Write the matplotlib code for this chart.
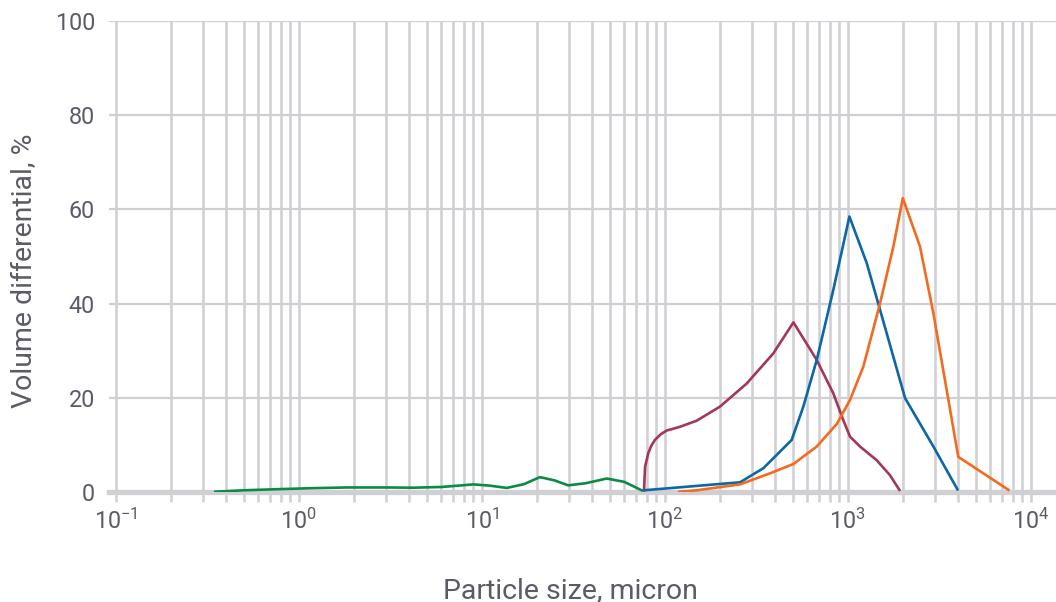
import matplotlib
matplotlib.use("Agg")
import matplotlib.pyplot as plt
from matplotlib.ticker import LogLocator, FixedLocator, FixedFormatter, NullFormatter

plt.rcParams['font.family'] = ['Roboto', 'DejaVu Sans']
plt.rcParams['mathtext.fontset'] = 'custom'
plt.rcParams['mathtext.rm'] = 'Roboto'
plt.rcParams['mathtext.it'] = 'Roboto:italic'
plt.rcParams['mathtext.bf'] = 'Roboto:bold'

# green sample
green_x = [0.35, 0.5, 0.79, 1.2, 1.83, 3, 4.23, 6, 7.5, 9.0, 11, 13.7, 17, 20.8, 25, 29.7, 37, 48.2, 60, 74.8]
green_y = [0, 0.3, 0.55, 0.75, 0.9, 0.9, 0.85, 1.0, 1.3, 1.55, 1.3, 0.8, 1.6, 3.1, 2.4, 1.35, 1.8, 2.8, 2.1, 0.3]

# maroon sample
maroon_x = [77.1, 77.6, 78.1, 81.3, 84.5, 88.4, 95, 102.5, 121.2, 149.6, 200.6, 280.5, 392, 505,
            677, 834, 946, 1029, 1167, 1439, 1702, 1914]
maroon_y = [0.3, 3.0, 5.3, 8.2, 9.8, 11.0, 12.2, 13.0, 13.8, 15.1, 18.1, 23.0, 29.4, 36.0,
            28.0, 20.9, 15.2, 11.7, 9.6, 6.7, 3.5, 0.4]

# blue sample
blue_x = [77, 258, 346, 494, 572, 677, 834, 1021, 1270, 1503, 2057, 2938, 3974]
blue_y = [0.3, 2.0, 5.0, 11.0, 18.1, 28.0, 42.9, 58.5, 48.6, 38.6, 19.9, 9.6, 0.5]

# orange sample
orange_x = [120, 150, 258, 376, 505, 677, 871, 1029, 1217, 1503, 1775, 2000,
            2483, 2938, 4018, 7550]
orange_y = [0, 0.3, 1.56, 3.9, 5.9, 9.6, 14.4, 19.5, 26.6, 40.1, 52.1, 62.4,
            52.1, 37.9, 7.4, 0.4]

xticks = [0.1, 1, 10, 100, 1000, 10000]
xtick_labels = [r'$10^{-1}$', r'$10^{0}$', r'$10^{1}$', r'$10^{2}$', r'$10^{3}$', r'$10^{4}$']
yticks = [0, 20, 40, 60, 80, 100]

grid_c = '#cfcfd4'
text_c = '#5b5b66'

fig = plt.figure(figsize=(10.56, 6.02), dpi=100)
ax = fig.add_axes([109 / 1056, 1 - 491.7 / 602, 1 - 109 / 1056, (491.7 - 21.3) / 602])

ax.plot(green_x, green_y, color='#0b8a45', lw=1.9, zorder=4)
ax.plot(maroon_x, maroon_y, color='#a3375a', lw=1.9, zorder=4)
ax.plot(blue_x, blue_y, color='#0d66a6', lw=1.9, zorder=4)
ax.plot(orange_x, orange_y, color='#f46a1e', lw=1.9, zorder=4)

ax.set_xscale('log')
ax.set_xlim(0.0919, 13740)
ax.set_ylim(0, 100)

ax.xaxis.set_major_locator(FixedLocator(xticks))
ax.xaxis.set_major_formatter(FixedFormatter(xtick_labels))
ax.xaxis.set_minor_locator(LogLocator(base=10, subs=range(2, 10)))
ax.xaxis.set_minor_formatter(NullFormatter())
ax.set_yticks(yticks)

ax.grid(True, which='both', axis='x', color=grid_c, lw=1.8, zorder=0)
ax.grid(True, which='major', axis='y', color=grid_c, lw=1.6, zorder=0)
ax.axhline(0, color=grid_c, lw=3.8, zorder=2, clip_on=False)

for s in ax.spines.values():
    s.set_visible(False)

ax.tick_params(axis='x', which='both', direction='out', length=7.5, width=1.8,
               color=grid_c, labelsize=16.8, labelcolor=text_c, pad=5)
ax.tick_params(axis='y', length=0, labelsize=16.8, labelcolor=text_c, pad=10)

fig.text(570 / 1056, 1 - 598 / 602, 'Particle size, micron', ha='center', va='baseline',
         fontsize=20.5, color=text_c)
fig.text(25 / 1056, 1 - 271 / 602, 'Volume differential, %', ha='center', va='center',
         rotation=90, fontsize=20.5, color=text_c)

fig.savefig('out.png', dpi=100)
